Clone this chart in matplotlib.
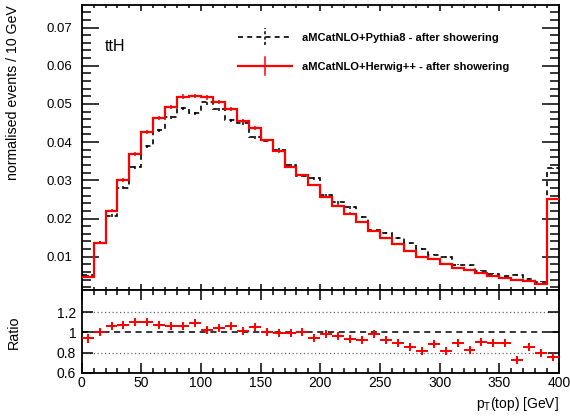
import numpy as np
import matplotlib
matplotlib.use('Agg')
import matplotlib.pyplot as plt
from matplotlib.ticker import MultipleLocator, FixedLocator, NullLocator, FuncFormatter
from matplotlib.lines import Line2D

plt.rcParams['font.family'] = ['Liberation Sans', 'DejaVu Sans']
plt.rcParams['mathtext.fontset'] = 'custom'
plt.rcParams['mathtext.rm'] = 'Liberation Sans'

# ── top pT spectrum, 10 GeV bins from 0 to 400 (last bin holds overflow) ─────
bin_edges = np.arange(0, 410, 10)

herwig = [0.0048, 0.0137, 0.0220, 0.0301, 0.0370, 0.0427, 0.0464, 0.0493,
          0.0519, 0.0521, 0.0517, 0.0505, 0.0486, 0.0456, 0.0437, 0.0405,
          0.0376, 0.0336, 0.0313, 0.0288, 0.0256, 0.0234, 0.0213, 0.0190,
          0.0166, 0.0150, 0.0132, 0.0115, 0.0098, 0.0093, 0.0081, 0.0071,
          0.0064, 0.0057, 0.0049, 0.0044, 0.0038, 0.0036, 0.0028, 0.0251]

pythia = [0.0051, 0.0137, 0.0207, 0.0280, 0.0335, 0.0389, 0.0432, 0.0465,
          0.0489, 0.0475, 0.0504, 0.0486, 0.0458, 0.0451, 0.0414, 0.0404,
          0.0380, 0.0339, 0.0311, 0.0305, 0.0261, 0.0242, 0.0229, 0.0205,
          0.0169, 0.0162, 0.0148, 0.0135, 0.0120, 0.0105, 0.0099, 0.0079,
          0.0077, 0.0063, 0.0055, 0.0049, 0.0052, 0.0042, 0.0035, 0.0331]

# relative statistical uncertainty per bin (same sample size for both)
rel_unc = [0.035, 0.021, 0.018, 0.014, 0.014, 0.011, 0.011, 0.011,
           0.011, 0.011, 0.011, 0.011, 0.011, 0.011, 0.011, 0.011,
           0.011, 0.011, 0.011, 0.011, 0.013, 0.013, 0.013, 0.013,
           0.013, 0.013, 0.016, 0.016, 0.016, 0.016, 0.020, 0.020,
           0.020, 0.020, 0.028, 0.028, 0.028, 0.028, 0.028, 0.006]

herwig = np.array(herwig)
pythia = np.array(pythia)
rel_unc = np.array(rel_unc)
centers = 0.5 * (bin_edges[:-1] + bin_edges[1:])
half_w = 0.5 * np.diff(bin_edges)

ratio = herwig / pythia
ratio_err = ratio * np.sqrt(2.0) * rel_unc

# ── figure / pads ─────────────────────────────────────────────────────────────
fig = plt.figure(figsize=(5.70, 4.18), dpi=100)
fig.patch.set_facecolor('white')
ax = fig.add_axes([0.1433, 0.3062, 0.8374, 0.6818])
axr = fig.add_axes([0.1433, 0.1077, 0.8374, 0.1985])

for a in (ax, axr):
    for sp in a.spines.values():
        sp.set_linewidth(1.3)

# ── upper pad ────────────────────────────────────────────────────────────────
ax.stairs(pythia, bin_edges, baseline=None, color='black', lw=1.2,
          linestyle=(0, (3, 2.5)), zorder=3)
eb = ax.errorbar(centers, pythia, yerr=pythia * rel_unc, fmt='none',
                 ecolor='black', elinewidth=1.1, zorder=3)
eb[2][0].set_linestyle((0, (2, 1.5)))

ax.stairs(herwig, bin_edges, baseline=None, color='#ff0000', lw=1.6, zorder=4)
ax.errorbar(centers, herwig, yerr=herwig * rel_unc, fmt='none',
            ecolor='#ff0000', elinewidth=1.1, zorder=4)

ax.set_xlim(0, 400)
ax.set_ylim(0.00128, 0.0759)
ax.xaxis.set_major_locator(MultipleLocator(50))
ax.xaxis.set_minor_locator(MultipleLocator(10))
ax.yaxis.set_major_locator(FixedLocator([0.01, 0.02, 0.03, 0.04, 0.05, 0.06, 0.07]))
ax.yaxis.set_minor_locator(MultipleLocator(0.002))
ax.yaxis.set_major_formatter(FuncFormatter(lambda v, p: f'{v:.2f}'))
ax.tick_params(axis='both', which='both', direction='in', top=True, right=True,
               width=1.1, labelsize=9.5)
ax.tick_params(axis='y', which='major', length=12.2, pad=6.8)
ax.tick_params(axis='y', which='minor', length=6.5)
ax.tick_params(axis='x', which='major', length=4.3)
ax.tick_params(axis='x', which='minor', length=2.2)
ax.tick_params(axis='x', labelbottom=False)

ax.text(0.048, 0.856, 'ttH', transform=ax.transAxes, fontsize=11.5,
        ha='left', va='center')

# legend drawn by hand, ROOT style
leg_x0, leg_x1 = 0.327, 0.441
leg_xc = 0.5 * (leg_x0 + leg_x1)
for yl, col, ls, lw in [(0.888, 'black', (0, (3, 2.5)), 1.2),
                        (0.786, '#ff0000', '-', 1.6)]:
    ax.add_line(Line2D([leg_x0, leg_x1], [yl, yl], transform=ax.transAxes,
                       color=col, lw=lw, linestyle=ls))
    ax.add_line(Line2D([leg_xc, leg_xc], [yl - 0.03, yl + 0.03],
                       transform=ax.transAxes, color=col, lw=1.1,
                       linestyle=(0, (2, 1.5)) if col == 'black' else '-'))
ax.text(0.4616, 0.885, 'aMCatNLO+Pythia8 - after showering', transform=ax.transAxes,
        fontsize=8, fontweight='bold', ha='left', va='center')
ax.text(0.4616, 0.783, 'aMCatNLO+Herwig++ - after showering', transform=ax.transAxes,
        fontsize=8, fontweight='bold', ha='left', va='center')

fig.text(13 / 570, 1 - 5 / 418, 'normalised events / 10 GeV', rotation=90,
         ha='center', va='top', fontsize=10.2)

# ── ratio pad ────────────────────────────────────────────────────────────────
axr.axhline(1.0, color='black', lw=1.1, linestyle=(0, (4, 3)), zorder=1)
for lvl in (0.8, 1.2):
    axr.axhline(lvl, color='#666666', lw=0.9, linestyle=(0, (1, 2)), zorder=1)

axr.errorbar(centers, ratio, xerr=half_w, yerr=ratio_err, fmt='+',
             color='#ff0000', ecolor='#ff0000', elinewidth=1.4,
             markersize=6, markeredgewidth=1.4, zorder=3)

axr.set_xlim(0, 400)
axr.set_ylim(0.6, 1.418)
axr.xaxis.set_major_locator(MultipleLocator(50))
axr.xaxis.set_minor_locator(MultipleLocator(10))
axr.yaxis.set_major_locator(FixedLocator([0.6, 0.8, 1.0, 1.2]))
axr.yaxis.set_minor_locator(NullLocator())
axr.yaxis.set_major_formatter(FuncFormatter(lambda v, p: f'{v:g}'))
axr.tick_params(axis='both', which='both', direction='in', top=True, right=True,
                width=1.1, labelsize=10)
axr.tick_params(axis='x', which='major', length=7, pad=2)
axr.tick_params(axis='x', which='minor', length=3.6)
axr.tick_params(axis='y', which='major', length=8, pad=4)

fig.text(14 / 570, 1 - 332 / 418, 'Ratio', rotation=90, ha='center',
         va='center', fontsize=10.3)
fig.text(559 / 570, 1 - 404 / 418, r'p$_{\mathrm{T}}$(top) [GeV]', ha='right',
         va='center', fontsize=10)

fig.savefig('out.png', dpi=100, facecolor='white')
